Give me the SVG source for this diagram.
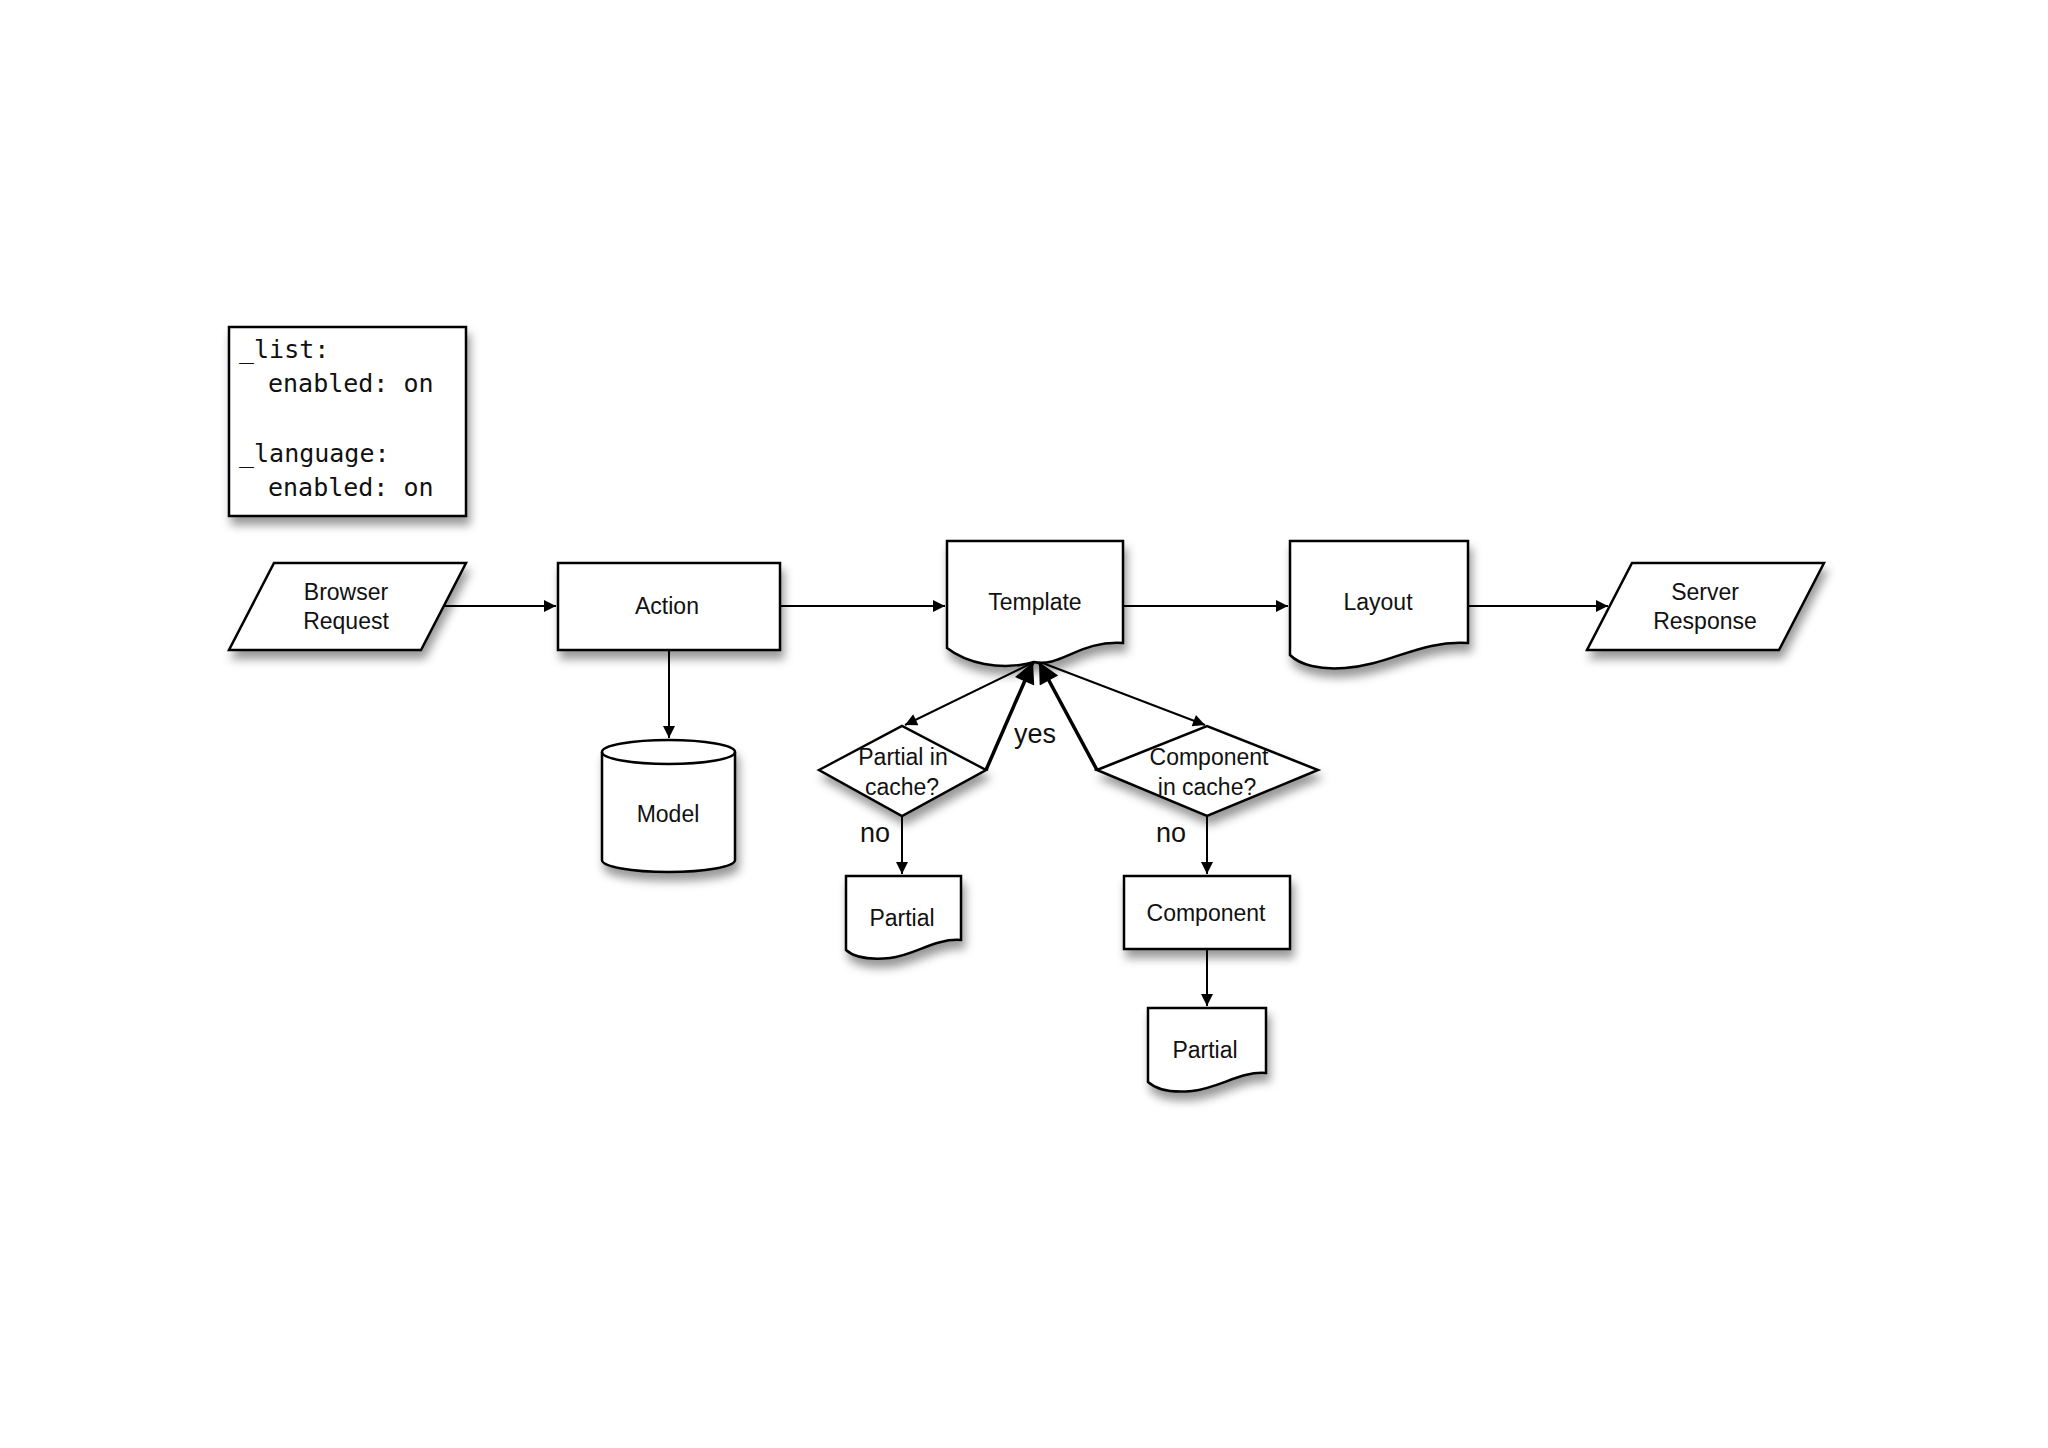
<svg xmlns="http://www.w3.org/2000/svg" width="2048" height="1448" viewBox="0 0 2048 1448">
<style>
.s{fill:#fff;stroke:#000;stroke-width:2.5;filter:url(#sh)}
.t{font-family:"Liberation Sans",Arial,sans-serif;font-size:23px;text-anchor:middle;fill:#111}
.c{font-family:"DejaVu Sans Mono","Liberation Mono",monospace;font-size:25px;fill:#111}
.e{stroke:#000;stroke-width:2;fill:none;marker-end:url(#a)}
.b{stroke:#000;stroke-width:3.5;fill:none;marker-end:url(#a)}
</style>
<defs>
<filter id="sh" x="-20%" y="-20%" width="150%" height="160%"><feDropShadow dx="3" dy="8" stdDeviation="5" flood-color="#000" flood-opacity="0.4"/></filter>
<marker id="a" viewBox="0 0 10 10" refX="10" refY="5" markerWidth="8" markerHeight="8" markerUnits="userSpaceOnUse" orient="auto"><path d="M0,0 L10,5 L0,10 Z"/></marker>
<marker id="ab" viewBox="0 0 10 10" refX="10" refY="5" markerWidth="7" markerHeight="6" orient="auto"><path d="M0,0 L10,5 L0,10 Z"/></marker>
</defs>
<rect width="2048" height="1448" fill="#fff"/>
<g id="config">
<rect class="s" x="229" y="327" width="237" height="189" stroke-width="1.5"/>
<text class="c" x="239" y="358">_list:</text>
<text class="c" x="268" y="392">enabled: on</text>
<text class="c" x="239" y="462">_language:</text>
<text class="c" x="268" y="496">enabled: on</text>
</g>
<g id="connectors">
<line class="e" x1="444" y1="606" x2="556" y2="606" style="marker-end:url(#ab)"/>
<line class="e" x1="780" y1="606" x2="945" y2="606" style="marker-end:url(#ab)"/>
<line class="e" x1="1123" y1="606" x2="1288" y2="606" style="marker-end:url(#ab)"/>
<line class="e" x1="1468" y1="606" x2="1608" y2="606" style="marker-end:url(#ab)"/>
<line class="e" x1="669" y1="650" x2="669" y2="738" style="marker-end:url(#ab)"/>
<line class="e" x1="1034" y1="662" x2="905" y2="725" style="marker-end:url(#ab)"/>
<line class="b" x1="986" y1="770" x2="1033" y2="662" style="marker-end:url(#ab)"/>
<line class="b" x1="1097" y1="770" x2="1039" y2="662" style="marker-end:url(#ab)"/>
<line class="e" x1="1040" y1="662" x2="1205" y2="725" style="marker-end:url(#ab)"/>
<line class="e" x1="902" y1="816" x2="902" y2="874" style="marker-end:url(#ab)"/>
<line class="e" x1="1207" y1="816" x2="1207" y2="874" style="marker-end:url(#ab)"/>
<line class="e" x1="1207" y1="949" x2="1207" y2="1006" style="marker-end:url(#ab)"/>
<text class="t" x="1035" y="743" style="font-size:27px">yes</text>
<text class="t" x="875" y="842" style="font-size:27px">no</text>
<text class="t" x="1171" y="842" style="font-size:27px">no</text>
</g>
<g id="browser-request">
<polygon class="s" points="274,563 466,563 421,650 229,650"/>
<text class="t" x="346" y="600">Browser</text>
<text class="t" x="346" y="629">Request</text>
</g>
<g id="action">
<rect class="s" x="558" y="563" width="222" height="87"/>
<text class="t" x="667" y="614">Action</text>
</g>
<g id="model">
<path class="s" d="M602,752 A66.5,12 0 0 1 735,752 V860 A66.5,12 0 0 1 602,860 Z"/>
<path d="M602,752 A66.5,12 0 0 0 735,752" fill="none" stroke="#000" stroke-width="2.5"/>
<text class="t" x="668" y="822">Model</text>
</g>
<g id="template">
<path class="s" d="M947,541 H1123 V643 C1080,640 1060,668 1034,662 C1000,672 965,662 947,648 Z"/>
<text class="t" x="1035" y="610">Template</text>
</g>
<g id="layout">
<path class="s" d="M1290,541 H1468 V643 C1420,640 1390,665 1345,668 C1320,670 1300,665 1290,655 Z"/>
<text class="t" x="1378" y="610">Layout</text>
</g>
<g id="server-response">
<polygon class="s" points="1632,563 1824,563 1779,650 1587,650"/>
<text class="t" x="1705" y="600">Server</text>
<text class="t" x="1705" y="629">Response</text>
</g>
<g id="partial-in-cache">
<polygon class="s" points="819,770 902,726 986,770 902,816"/>
<text class="t" x="903" y="765">Partial in</text>
<text class="t" x="902" y="795">cache?</text>
</g>
<g id="component-in-cache">
<polygon class="s" points="1097,770 1207,726 1318,770 1207,816"/>
<text class="t" x="1209" y="765">Component</text>
<text class="t" x="1207" y="795">in cache?</text>
</g>
<g id="partial-1">
<path class="s" d="M846,876 H961 V940 C935,938 915,955 890,958 C870,960 855,958 846,950 Z"/>
<text class="t" x="902" y="926">Partial</text>
</g>
<g id="component">
<rect class="s" x="1124" y="876" width="166" height="73"/>
<text class="t" x="1206" y="921">Component</text>
</g>
<g id="partial-2">
<path class="s" d="M1148,1008 H1266 V1073 C1240,1071 1220,1088 1192,1091 C1172,1093 1157,1090 1148,1082 Z"/>
<text class="t" x="1205" y="1058">Partial</text>
</g>
</svg>
